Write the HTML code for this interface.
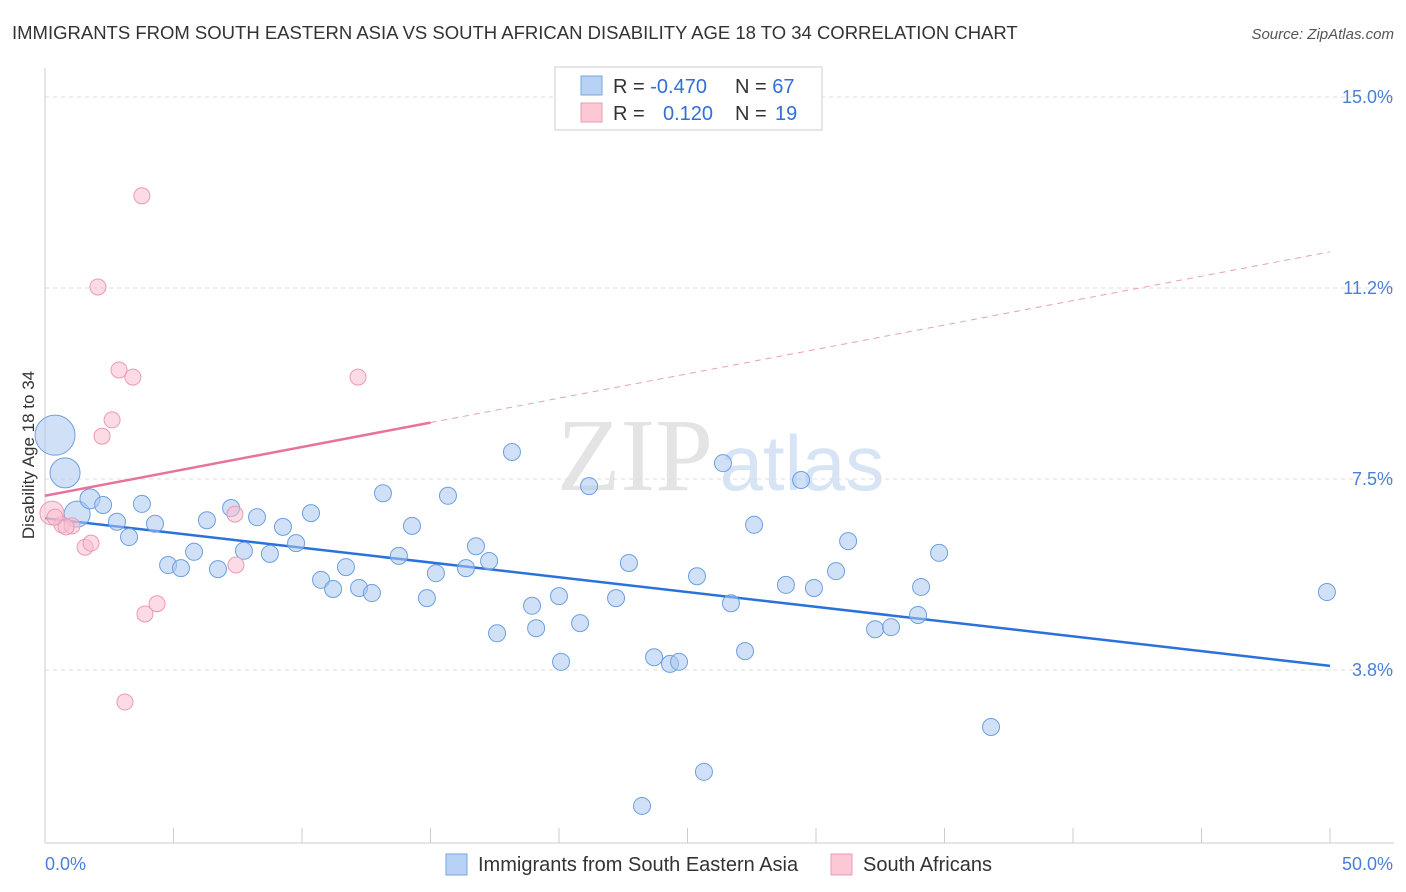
<!DOCTYPE html>
<html><head><meta charset="utf-8"><style>
body{margin:0;background:#fff;font-family:"Liberation Sans",sans-serif;}
svg{display:block}
</style></head><body>
<svg id="chart" width="1406" height="892">
<text x="12" y="39" font-size="18.5" fill="#333">IMMIGRANTS FROM SOUTH EASTERN ASIA VS SOUTH AFRICAN DISABILITY AGE 18 TO 34 CORRELATION CHART</text>
<text x="1394" y="39" font-size="15" fill="#555" font-style="italic" text-anchor="end">Source: ZipAtlas.com</text>
<text transform="translate(34,455) rotate(-90)" font-size="17" fill="#333" text-anchor="middle">Disability Age 18 to 34</text>
<g><text x="635" y="490" font-size="104" fill="#e4e4e4" font-family="Liberation Serif,serif" text-anchor="middle">ZIP</text><text x="802" y="490" font-size="78" fill="#d6e4f5" text-anchor="middle">atlas</text></g>
<g id="grid"></g><g id="axes"></g><g id="lines"></g><g id="pts"></g>
<g>
<rect x="555" y="67" width="267" height="63" fill="#fff" stroke="#ccc"/>
<rect x="581" y="76" width="21" height="19" fill="#b7d2f5" stroke="#7aa7e0"/>
<rect x="581" y="103" width="21" height="19" fill="#fcc8d6" stroke="#eb9ab2"/>
<text x="613" y="93" font-size="20" fill="#333">R = <tspan fill="#2f6fd6">-0.470</tspan></text>
<text x="735" y="93" font-size="20" fill="#333">N = <tspan fill="#2f6fd6">67</tspan></text>
<text x="613" y="120" font-size="20" fill="#333">R = </text><text x="663" y="120" font-size="20" fill="#2f6fd6">0.120</text>
<text x="735" y="120" font-size="20" fill="#333">N = </text><text x="775" y="120" font-size="20" fill="#2f6fd6">19</text>
</g>
<g>
<rect x="446" y="854" width="21" height="21" fill="#b7d2f5" stroke="#7aa7e0"/>
<text x="478" y="871" font-size="20" fill="#333">Immigrants from South Eastern Asia</text>
<rect x="831" y="854" width="21" height="21" fill="#fcc8d6" stroke="#eb9ab2"/>
<text x="863" y="871" font-size="20" fill="#333">South Africans</text>
</g>
</svg>
<script>
const yTicks=[15,11.25,7.5,3.75];
const yTickLabels=["15.0%","11.2%","7.5%","3.8%"];
const xTickLabels=["0.0%","50.0%"];
const blueX=[0.39,0.78,1.25,1.75,2.26,2.80,3.27,3.77,4.28,4.79,5.29,5.80,6.30,6.73,7.24,7.74,8.25,8.75,9.26,9.77,10.35,10.74,11.21,11.71,12.22,12.72,13.15,13.77,14.28,14.86,15.21,15.68,16.38,16.77,17.28,17.59,18.17,18.95,19.11,20.0,20.08,20.82,21.17,22.22,22.72,23.23,23.70,24.32,24.67,25.37,25.64,26.38,26.69,27.24,27.59,28.83,29.42,29.92,30.78,31.25,32.30,32.92,33.97,34.09,34.79,36.81,49.88];
const blueY=[8.36,7.62,6.81,7.11,6.99,6.66,6.36,7.01,6.62,5.81,5.75,6.07,6.69,5.73,6.93,6.09,6.75,6.03,6.56,6.24,6.83,5.52,5.34,5.77,5.36,5.26,7.22,5.99,6.58,5.16,5.65,7.17,5.75,6.18,5.89,4.47,8.03,5.01,4.57,5.20,3.91,4.67,7.36,5.16,5.85,1.08,4.00,3.87,3.91,5.59,1.75,7.81,5.06,4.12,6.60,5.42,7.48,5.36,5.69,6.28,4.55,4.59,4.83,5.38,6.05,2.63,5.28];
const blueSize=[20,15,13,10];
const pinkX=[0.27,0.66,1.05,1.56,1.79,2.06,2.22,2.61,2.88,3.11,3.42,3.77,3.89,4.36,7.39,7.43,12.18,0.39,0.82];
const pinkY=[6.83,6.60,6.58,6.16,6.24,11.27,8.34,8.66,9.64,3.12,9.50,13.06,4.85,5.05,6.81,5.81,9.50,6.75,6.56];
const pinkSize=[12];
const blueTrend=[6.73,-0.058]; // intercept, slope
const pinkTrend=[7.17,0.0958];
const NS="http://www.w3.org/2000/svg";
const xs=v=>45+v*25.7, ys=v=>97+(15-v)*50.93;
function mk(t,a,p){const e=document.createElementNS(NS,t);for(const k in a)e.setAttribute(k,a[k]);document.getElementById(p).appendChild(e);return e;}
yTicks.forEach((v,i)=>{
 const g=mk('line',{x1:45,x2:1394,y1:ys(v),y2:ys(v),stroke:'#ddd','stroke-dasharray':'4,4'},'grid');
 
 
 const t=mk('text',{x:1393,y:ys(v)+6,'font-size':18,fill:'#4a7fd6','text-anchor':'end'},'axes');t.textContent=yTickLabels[i];
 
 
});
mk('line',{x1:45,x2:45,y1:68,y2:843,stroke:'#ccc'},'axes');
mk('line',{x1:45,x2:1394,y1:843,y2:843,stroke:'#ccc'},'axes');
for(let i=0;i<=10;i++){const t=mk('line',{x1:xs(i*5),x2:xs(i*5),y1:828,y2:843,stroke:'#ccc'},'axes');
 
 }
[[0,'start',45],[50,'end',1393]].forEach((d,i)=>{const t=mk('text',{x:d[2],y:870,'font-size':18,fill:'#4a7fd6','text-anchor':d[1]},'axes');t.textContent=xTickLabels[i];
 
 });
const bl=mk('line',{x1:xs(0),y1:ys(blueTrend[0]),x2:xs(50),y2:ys(blueTrend[0]+50*blueTrend[1]),stroke:'#2a72d9','stroke-width':2.5},'lines');


const pl=mk('line',{x1:xs(0),y1:ys(pinkTrend[0]),x2:xs(15),y2:ys(pinkTrend[0]+15*pinkTrend[1]),stroke:'#e8729a','stroke-width':2.5},'lines');


const pd=mk('line',{x1:xs(15),y1:ys(pinkTrend[0]+15*pinkTrend[1]),x2:xs(50),y2:ys(pinkTrend[0]+50*pinkTrend[1]),stroke:'#e8a0b8','stroke-width':1,'stroke-dasharray':'6,5'},'lines');


blueX.forEach((x,i)=>{const c=mk('circle',{cx:xs(x),cy:ys(blueY[i]),r:blueSize[i]||8.5,fill:'rgba(170,200,240,0.55)',stroke:'#6d9fe0','stroke-width':1},'pts');
 
 });
pinkX.forEach((x,i)=>{const c=mk('circle',{cx:xs(x),cy:ys(pinkY[i]),r:pinkSize[i]||8,fill:'rgba(250,190,208,0.55)',stroke:'#eb9ab2','stroke-width':1},'pts');
 
 });
</script>
</body></html>
